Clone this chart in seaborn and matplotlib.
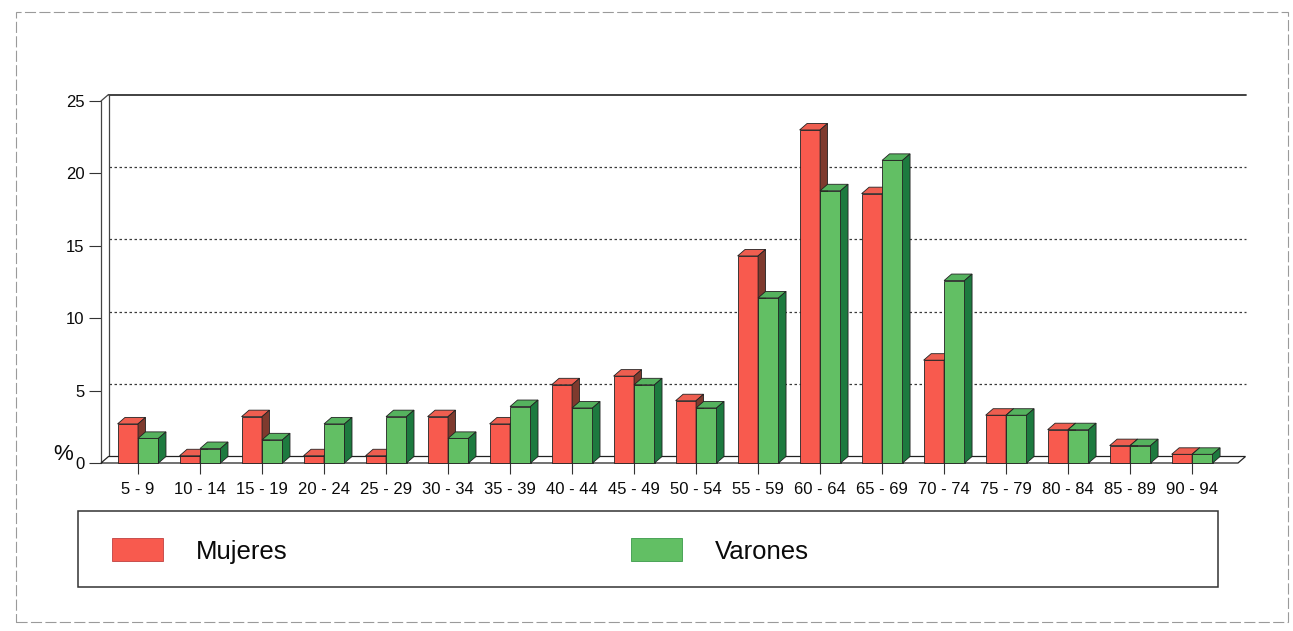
import numpy as np
import pandas as pd
import matplotlib
matplotlib.use("Agg")
import matplotlib.pyplot as plt
from matplotlib.patches import Polygon, Rectangle, Patch
import seaborn as sns

# Age groups and percentage of cases by sex
grupos = ["5 - 9", "10 - 14", "15 - 19", "20 - 24", "25 - 29", "30 - 34",
          "35 - 39", "40 - 44", "45 - 49", "50 - 54", "55 - 59", "60 - 64",
          "65 - 69", "70 - 74", "75 - 79", "80 - 84", "85 - 89", "90 - 94"]
mujeres = [2.7, 0.5, 3.2, 0.5, 0.5, 3.2, 2.7, 5.4, 6.0, 4.3, 14.3, 23.0,
           18.6, 7.1, 3.3, 2.3, 1.2, 0.6]
varones = [1.7, 1.0, 1.6, 2.7, 3.2, 1.7, 3.9, 3.8, 5.4, 3.8, 11.4, 18.8,
           20.9, 12.6, 3.3, 2.3, 1.2, 0.6]
sexos = ["Mujeres", "Varones"]
y_ticks = [0, 5, 10, 15, 20, 25]

# Face colours of the pseudo-3D bars: front, top, side
frente = {"Mujeres": "#F85A4E", "Varones": "#62BF64"}
techo = {"Mujeres": "#EE5E50", "Varones": "#55B25E"}
lado = {"Mujeres": "#7E3A2E", "Varones": "#1D7A3F"}
borde = "#222222"

df = pd.DataFrame({
    "Grupo": grupos * 2,
    "Sexo": [sexos[0]] * len(grupos) + [sexos[1]] * len(grupos),
    "Porcentaje": mujeres + varones,
})

sns.set_style("white")
plt.rcParams["font.family"] = ["Liberation Sans", "DejaVu Sans"]

W, H = 1293, 631
fig = plt.figure(figsize=(W / 100, H / 100), dpi=100)
fig.patch.set_facecolor("white")

# Front plane of the plot box, in pixels
left_px, right_px, base_px, top_px = 101, 1238, 463, 101
ax = fig.add_axes([left_px / W, 1 - base_px / H,
                   (right_px - left_px) / W, (base_px - top_px) / H])

sns.barplot(data=df, x="Grupo", y="Porcentaje", hue="Sexo", hue_order=sexos,
            palette=frente, width=0.66, saturation=1, edgecolor=borde,
            linewidth=0.6, errorbar=None, legend=False, ax=ax)

x0, x1 = -0.597, 17.74
ax.set_xlim(x0, x1)
ax.set_ylim(0, 25)

# Depth of the 3D box expressed in data units
bb = ax.get_window_extent()
ddx = 7.5 * (x1 - x0) / bb.width
ddy = 6.5 * 25 / bb.height

# Add top and side faces to every bar
for k, (cont, sexo) in enumerate(zip(ax.containers, sexos)):
    z = 2 + k
    for bar in cont:
        x = bar.get_x()
        w = bar.get_width()
        h = bar.get_height()
        bar.set_zorder(z)
        bar.set_clip_on(False)
        top = Polygon([(x, h), (x + w, h), (x + w + ddx, h + ddy), (x + ddx, h + ddy)],
                      closed=True, facecolor=techo[sexo], edgecolor=borde,
                      linewidth=0.6, zorder=z, clip_on=False)
        side = Polygon([(x + w, 0), (x + w, h), (x + w + ddx, h + ddy), (x + w + ddx, ddy)],
                       closed=True, facecolor=lado[sexo], edgecolor=borde,
                       linewidth=0.6, zorder=z, clip_on=False)
        ax.add_patch(top)
        ax.add_patch(side)

# Back wall: dotted gridlines and solid top edge
for v in y_ticks[1:-1]:
    ax.plot([x0 + ddx, x1 + ddx], [v + ddy, v + ddy], color="#3a3a3a",
            linewidth=0.9, linestyle=(0, (2, 2)), zorder=0.5, clip_on=False)
ax.plot([x0 + ddx, x1 + ddx], [25 + ddy, 25 + ddy], color="#333333",
        linewidth=1.3, zorder=0.5, clip_on=False)

# Left wall edges
ax.plot([x0 + ddx, x0 + ddx], [ddy, 25 + ddy], color="#444444", linewidth=0.9,
        zorder=0.6, clip_on=False)
ax.plot([x0, x0], [0, 25], color="#444444", linewidth=0.9, zorder=0.6, clip_on=False)
ax.plot([x0, x0 + ddx], [25, 25 + ddy], color="#444444", linewidth=0.9,
        zorder=0.6, clip_on=False)

# Floor
floor = Polygon([(x0, 0), (x1, 0), (x1 + ddx, ddy), (x0 + ddx, ddy)], closed=True,
                facecolor="white", edgecolor="#222222", linewidth=0.9,
                zorder=1, clip_on=False)
ax.add_patch(floor)

for s in ax.spines.values():
    s.set_visible(False)

ax.set_xlabel("")
ax.set_ylabel("")
ax.set_xticks(range(len(grupos)))
ax.set_xticklabels(grupos)
ax.set_yticks(y_ticks)
ax.set_yticklabels([str(v) for v in y_ticks])
ax.tick_params(axis="x", bottom=True, length=8, width=0.8, color="#333333",
               pad=6, labelsize=12, labelcolor="#0a0a0a")
ax.tick_params(axis="y", left=True, length=9, width=0.8, color="#333333",
               pad=3, labelsize=12, labelcolor="#0a0a0a")

fig.text(53 / W, 1 - 455 / H, "%", fontsize=16, ha="left", va="center",
         color="#0a0a0a")

# Legend box below the plot
fig.patches.append(Rectangle((78 / W, 1 - 587 / H), (1218 - 78) / W, 76 / H,
                             transform=fig.transFigure, fill=False,
                             edgecolor="#333333", linewidth=1.1))
handles = [Patch(facecolor=frente[s], edgecolor="#c04040" if s == "Mujeres" else "#3a9a4a",
                 linewidth=0.6, label=s) for s in sexos]
leg = fig.legend(handles=handles, loc="center left", bbox_to_anchor=(112 / W, 1 - 551 / H),
                 ncol=2, frameon=False, fontsize=18.5, handlelength=1.98, handleheight=1.0,
                 handletextpad=1.3, columnspacing=13.35, borderpad=0, borderaxespad=0)
for t in leg.get_texts():
    t.set_color("#0a0a0a")

# Light dashed page border
fig.patches.append(Rectangle((16 / W, 1 - 622 / H), (1288 - 16) / W, (622 - 12) / H,
                             transform=fig.transFigure, fill=False,
                             edgecolor="#9a9a9a", linewidth=0.8,
                             linestyle=(0, (10, 3))))

fig.savefig("out.png", dpi=100, facecolor="white")
